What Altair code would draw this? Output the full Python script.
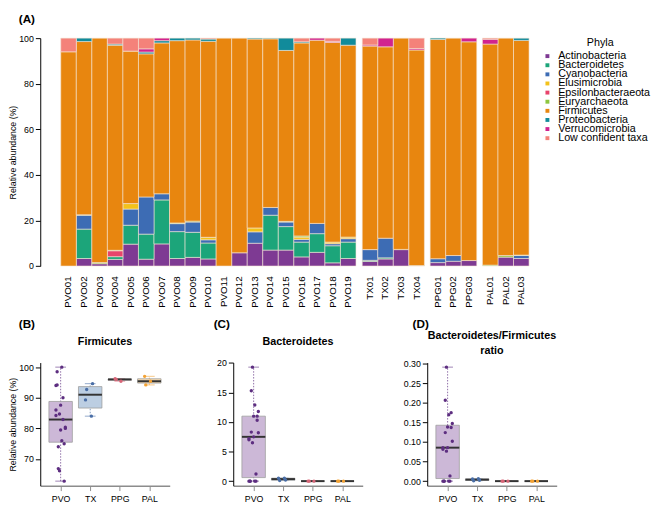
import math
import json
import altair as alt
import pandas as pd

# ---------------- data ----------------
samples = ['PVO01', 'PVO02', 'PVO03', 'PVO04', 'PVO05', 'PVO06', 'PVO07', 'PVO08', 'PVO09', 'PVO10',
           'PVO11', 'PVO12', 'PVO13', 'PVO14', 'PVO15', 'PVO16', 'PVO17', 'PVO18', 'PVO19',
           'TX01', 'TX02', 'TX03', 'TX04', 'PPG01', 'PPG02', 'PPG03', 'PAL01', 'PAL02', 'PAL03']
sample_group = ['PVO'] * 19 + ['TX'] * 4 + ['PPG'] * 3 + ['PAL'] * 3
groups = ['PVO', 'TX', 'PPG', 'PAL']

phyla = ['Actinobacteria', 'Bacteroidetes', 'Cyanobacteria', 'Elusimicrobia', 'Epsilonbacteraeota',
         'Euryarchaeota', 'Firmicutes', 'Proteobacteria', 'Verrucomicrobia', 'Low confident taxa']
phyla_colors = ['#7e3a93', '#1ca57a', '#3d6cb4', '#f3c21b', '#e8436b',
                '#8dc63f', '#e8860f', '#118b9b', '#d1238f', '#f4827a']

actinobacteria = [0, 3.3, 1.0, 2.9, 9.6, 3.0, 9.7, 3.3, 3.8, 3.1, 0, 5.8, 10, 7, 7, 4, 6, 1.4, 3.3,
                  2, 3.1, 7.2, 0, 1.5, 2.1, 2.4, 0, 3.9, 3.3]
bacteroidetes = [0, 12.9, 0, 1.2, 8.3, 11.0, 19.3, 11.8, 11.0, 7.0, 0, 0, 0, 15.3, 10.3, 6.5, 8.2, 7.5, 7.2,
                 0.5, 0.5, 0.1, 0.2, 0, 0, 0, 0, 0, 0]
cyanobacteria = [0, 6.1, 0, 0, 7.1, 16.3, 2.7, 3.5, 4.5, 1.4, 0, 0, 5, 3.4, 2, 1.2, 4.5, 0.9, 1.5,
                 4.7, 8.6, 0, 0, 1.7, 2.5, 0, 0, 0, 1.3]
elusimicrobia = [0, 0, 0, 0, 2.4, 0, 0, 0, 0, 1.1, 0, 0, 1.7, 0, 0, 1, 0, 0.7, 0.7,
                 0, 0, 0, 0, 0, 0, 0, 0, 0, 0]
epsilonbacteraeota = [0, 0, 0, 2.6, 0, 0, 0, 0, 0, 0, 0, 0, 0, 0, 0, 0, 0, 0, 0,
                      0, 0, 0, 0, 0, 0, 0, 0, 0, 0]
euryarchaeota = [0, 0.2, 0.5, 0.2, 0, 0, 0, 0.3, 0.4, 0, 0, 0, 0, 0, 0.3, 0.5, 0, 0, 0,
                 0, 0, 0, 0, 0, 0, 0, 0.4, 0.7, 0.2]
firmicutes = [94, 76, 98.5, 90, 66.9, 62.8, 66.2, 80, 79.5, 86, 100, 94.2, 82.9, 74, 75, 84.7, 80.4, 87.6, 84.2,
              89.3, 84, 92.7, 94.6, 96.2, 95.4, 96, 97, 95.4, 94.2]
proteobacteria = [0, 1.5, 0, 0.5, 0, 0.8, 1.0, 1.1, 0.8, 1.0, 0, 0, 0.4, 0.3, 5.4, 0.5, 0, 0, 3.1,
                  0, 0, 0, 0, 0.6, 0, 0, 0, 0, 1.0]
verrucomicrobia = [0, 0, 0, 0, 0, 1.4, 1.1, 0, 0, 0, 0, 0, 0, 0, 0, 0, 0.9, 0.5, 0,
                   0.5, 3.8, 0, 0.6, 0, 0, 1.6, 2.1, 0, 0]
low_confident = [6, 0, 0, 2.6, 5.7, 4.7, 0, 0, 0, 0.4, 0, 0, 0, 0, 0, 1.6, 0, 1.4, 0,
                 3, 0, 0, 4.6, 0, 0, 0, 0.5, 0, 0]

series = [actinobacteria, bacteroidetes, cyanobacteria, elusimicrobia, epsilonbacteraeota,
          euryarchaeota, firmicutes, proteobacteria, verrucomicrobia, low_confident]

group_point_colors = ['#5d2e80', '#4a6ea6', '#d76577', '#f3a233']
group_box_fills = ['#ccb8d7', '#bccee2', '#f0c9cf', '#f7dbb0']

FONT = 'Liberation Sans'

# ---------------- top stacked bars ----------------
rows = []
for pi, (ph, vals) in enumerate(zip(phyla, series)):
    for s, g, v in zip(samples, sample_group, vals):
        if v > 0:
            rows.append({'sample': s, 'group': g, 'phylum': ph, 'value': v, 'ord': pi})
top_df = pd.DataFrame(rows)

BAR_W = 15.9
TOP_H = 233.2
AXIS_GAP = 21
phyla_scale = alt.Scale(domain=phyla, range=phyla_colors)

def top_chart(gi):
    g = groups[gi]
    samp = [s for s, gg in zip(samples, sample_group) if gg == g]
    sub = top_df[top_df['group'] == g]
    n = len(samp)
    yaxis = None
    xscale = alt.Scale(paddingInner=0, paddingOuter=0)
    width = BAR_W * n
    if gi == 0:
        yaxis = alt.Axis(values=[0, 20, 40, 60, 80, 100], tickSize=5, labelPadding=2,
                         title='Relative abundance (%)', titlePadding=1, titleFontSize=9,
                         titleFontWeight='normal', labelFontSize=9, grid=False)
        width = BAR_W * n + AXIS_GAP
        xscale = alt.Scale(paddingInner=0, paddingOuter=0, range=[AXIS_GAP, width])
    bars = alt.Chart(sub).mark_bar(stroke='#f5e6d6', strokeWidth=0.6).encode(
        x=alt.X('sample:N', sort=samp, scale=xscale,
                axis=alt.Axis(title=None, labelAngle=-90, ticks=False, tickSize=0, domain=False,
                              labelPadding=10, labelFontSize=10)),
        y=alt.Y('value:Q', stack='zero', scale=alt.Scale(domain=[0, 100], nice=False), axis=yaxis),
        color=alt.Color('phylum:N', scale=phyla_scale, legend=None),
        order=alt.Order('ord:Q', sort='ascending'),
    ).properties(width=width, height=TOP_H)
    if gi == 0:
        lab = alt.Chart(pd.DataFrame({'t': ['(A)']})).mark_text(
            fontSize=12, fontWeight='bold', align='left', baseline='middle', color='black'
        ).encode(text='t:N', x=alt.value(-22), y=alt.value(-19))
        return alt.layer(bars, lab)
    return bars

# legend drawn as its own small panel
leg_df = pd.DataFrame({'phylum': phyla})
LEG_Y0 = 18.4
LEG_STEP = 9.33
leg_y = alt.Y('phylum:N', sort=phyla, axis=None,
              scale=alt.Scale(range=[LEG_Y0, LEG_Y0 + LEG_STEP * (len(phyla) - 1)], padding=0))
leg_sym = alt.Chart(leg_df).mark_square(size=16, opacity=1).encode(
    x=alt.value(14), y=leg_y, color=alt.Color('phylum:N', scale=phyla_scale, legend=None))
leg_txt = alt.Chart(leg_df).mark_text(align='left', baseline='middle', fontSize=11, color='black').encode(
    x=alt.value(25), y=leg_y, text='phylum:N')
leg_title = alt.Chart(pd.DataFrame({'t': ['Phyla']})).mark_text(
    align='center', baseline='middle', fontSize=11, color='black').encode(
    text='t:N', x=alt.value(68), y=alt.value(4.7))
legend_chart = alt.layer(leg_sym, leg_txt, leg_title).properties(width=100, height=TOP_H)

top = alt.hconcat(*[top_chart(i) for i in range(len(groups))], legend_chart, spacing=4.5).resolve_scale(
    color='independent', y='independent')

# ---------------- bottom box plots ----------------
def fivenum(vals):
    x = sorted(vals)
    n = len(x)
    n4 = math.floor((n + 3) / 2) / 2
    d = [1, n4, (n + 1) / 2, n + 1 - n4, n]
    return [0.5 * (x[math.floor(di) - 1] + x[math.ceil(di) - 1]) for di in d]

ratio = [b / f for b, f in zip(bacteroidetes, firmicutes)]

PANEL_W = 132.5
PANEL_H = 126
STEP = PANEL_W / 4.38
label_expr = json.dumps(groups) + '[datum.value]'

def text_layer(txt, x, y, size, align):
    return alt.Chart(pd.DataFrame({'t': [txt]})).mark_text(
        fontSize=size, fontWeight='bold', align=align, baseline='middle', color='black'
    ).encode(text='t:N', x=alt.value(x), y=alt.value(y))

def panel(values, title_lines, title_ys, tag, tag_x, yvalues, yformat, ytitle, ext=0.04):
    lo, hi = min(values), max(values)
    r = hi - lo
    ydom = [lo - ext * r, hi + ext * r]
    pts_rows, box_rows = [], []
    for gi, g in enumerate(groups):
        gv = [v for v, gg in zip(values, sample_group) if gg == g]
        for k, v in enumerate(gv):
            jit_px = ((k * 5) % 9 - 4) * 1.2
            pts_rows.append({'grp': g, 'x': gi + jit_px / STEP, 'v': v})
        mn, q1, md, q3, mx = fivenum(gv)
        box_rows.append({'grp': g, 'g': gi, 'bl': gi - 12 / STEP, 'br': gi + 12 / STEP,
                         'cl': gi - 5.5 / STEP, 'cr': gi + 5.5 / STEP,
                         'lo': mn, 'q1': q1, 'med': md, 'q3': q3, 'hi': mx})
    pts = pd.DataFrame(pts_rows)
    box = pd.DataFrame(box_rows)
    xsc = alt.Scale(domain=[-0.69, 3.69], nice=False, zero=False)
    ysc = alt.Scale(domain=ydom, nice=False, zero=False)
    xaxis = alt.Axis(values=[0, 1, 2, 3], labelExpr=label_expr, title=None, grid=False, tickSize=5,
                     domainColor='#8c8c8c', domainWidth=1.5, tickColor='#8c8c8c', labelFontSize=9,
                     labelPadding=4)
    yargs = dict(values=yvalues, title=ytitle, grid=False, tickSize=5, labelPadding=2,
                 labelFontSize=9, titleFontSize=9, titleFontWeight='normal', titlePadding=1)
    if yformat:
        yargs['format'] = yformat
    yaxis = alt.Axis(**yargs)

    def X(f):
        return alt.X(f, scale=xsc, axis=xaxis, title=None)

    def Y(f):
        return alt.Y(f, scale=ysc, axis=yaxis, title=ytitle)

    ccol = alt.Color('grp:N', scale=alt.Scale(domain=groups, range=group_point_colors), legend=None)
    cfill = alt.Fill('grp:N', scale=alt.Scale(domain=groups, range=group_box_fills), legend=None)

    whisk = alt.Chart(box).mark_rule(strokeDash=[1.5, 1.5], strokeWidth=1, opacity=0.7).encode(
        x=X('g:Q'), y=Y('lo:Q'), y2='hi:Q', color=ccol)
    cap_lo = alt.Chart(box).mark_rule(strokeWidth=1, opacity=0.6).encode(
        x=X('cl:Q'), x2='cr:Q', y=Y('lo:Q'), color=ccol)
    cap_hi = alt.Chart(box).mark_rule(strokeWidth=1, opacity=0.6).encode(
        x=X('cl:Q'), x2='cr:Q', y=Y('hi:Q'), color=ccol)
    boxes = alt.Chart(box).mark_bar(stroke='#9d9d9d', strokeWidth=0.8, opacity=1).encode(
        x=X('bl:Q'), x2='br:Q', y=Y('q1:Q'), y2='q3:Q', fill=cfill)
    med = alt.Chart(box).mark_rule(strokeWidth=2, color='#333333').encode(
        x=X('bl:Q'), x2='br:Q', y=Y('med:Q'))
    dots = alt.Chart(pts).mark_circle(size=12, opacity=1).encode(
        x=X('x:Q'), y=Y('v:Q'), color=ccol)
    layers = [whisk, cap_lo, cap_hi, boxes, med, dots, text_layer(tag, tag_x, -39, 12, 'left')]
    for line, ty in zip(title_lines, title_ys):
        layers.append(text_layer(line, PANEL_W / 2, ty, 11, 'center'))
    return alt.layer(*layers).properties(width=PANEL_W, height=PANEL_H)

pB = panel(firmicutes, ['Firmicutes'], [-21], '(B)', -22, [70, 80, 90, 100], None,
           'Relative abundance (%)')
pC = panel(bacteroidetes, ['Bacteroidetes'], [-21], '(C)', -20, [0, 5, 10, 15, 20], None, None)
pD = panel(ratio, ['Bacteroidetes/Firmicutes', 'ratio'], [-27, -12], '(D)', -15,
           [0, 0.05, 0.10, 0.15, 0.20, 0.25, 0.30], '.2f', None)

bottom_left = alt.hconcat(pB, pC, spacing=44.5).resolve_scale(color='independent', fill='independent')
bottom = alt.hconcat(bottom_left, pD, spacing=41).resolve_scale(color='independent', fill='independent')

chart = alt.vconcat(top, bottom, spacing=11).resolve_scale(
    color='independent', fill='independent'
).properties(
    padding={'left': 0, 'top': 0, 'right': 0, 'bottom': 0}
).configure(
    font=FONT
).configure_view(
    stroke=None
).configure_axis(
    labelColor='black', titleColor='black', domainColor='black', tickColor='black',
    labelFont=FONT, titleFont=FONT
).configure_text(
    font=FONT
)

chart.save('out.html', embed_options={'renderer': 'svg', 'actions': False})
